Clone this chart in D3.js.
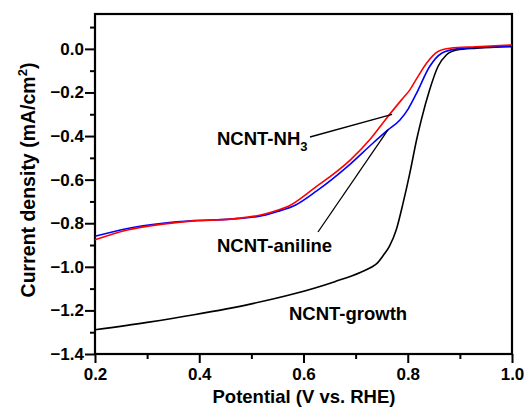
<!DOCTYPE html>
<html><head><meta charset="utf-8">
<script src="https://cdn.jsdelivr.net/npm/d3@7"></script>
<style>body{margin:0;background:#fff}svg text{font-family:Arial,"Liberation Sans",sans-serif;font-weight:bold}</style>
</head><body><svg id="c" width="525" height="414"></svg>
<script>
const xMajorTicks = [0.2, 0.4, 0.6, 0.8, 1.0];
const xMinorTicks = [0.3, 0.5, 0.7, 0.9];
const yMajorTicks = [-1.4, -1.2, -1.0, -0.8, -0.6, -0.4, -0.2, 0.0];
const yMinorTicks = [-1.3, -1.1, -0.9, -0.7, -0.5, -0.3, -0.1, 0.1];

const growthV = [0.20,0.30,0.39,0.50,0.58,0.66,0.71,0.73,0.742,0.753,0.765,0.778,0.791,0.804,0.817,0.826,0.842,0.858,0.874,0.894,0.932,1.0];
const growthJ = [-1.289,-1.255,-1.220,-1.170,-1.125,-1.068,-1.025,-1.002,-0.982,-0.948,-0.905,-0.830,-0.708,-0.570,-0.417,-0.326,-0.188,-0.081,-0.028,-0.005,0.003,0.010];

const nh3V = [0.20,0.26,0.33,0.39,0.46,0.52,0.55,0.57,0.62,0.69,0.727,0.762,0.788,0.804,0.82,0.836,0.858,0.881,0.93,1.0];
const nh3J = [-0.876,-0.832,-0.804,-0.789,-0.781,-0.761,-0.740,-0.723,-0.640,-0.509,-0.417,-0.310,-0.234,-0.188,-0.125,-0.066,-0.012,0.003,0.010,0.018];

const anilineV = [0.20,0.26,0.33,0.39,0.46,0.52,0.55,0.585,0.624,0.688,0.733,0.762,0.785,0.801,0.817,0.842,0.865,0.894,0.95,1.0];
const anilineJ = [-0.860,-0.825,-0.800,-0.788,-0.781,-0.766,-0.746,-0.716,-0.654,-0.532,-0.433,-0.372,-0.326,-0.275,-0.203,-0.081,-0.020,0.000,0.008,0.014];

const svg = d3.select("#c");
const L = 95, R = 512, T = 14, B = 354;
const x = d3.scaleLinear().domain([0.2, 1.0]).range([L, R]);
const y = d3.scaleLinear().domain([-1.4, 0.16]).range([B, T]);

const fmt = d3.format(".1f");
svg.append("g").attr("transform", `translate(0,${B})`)
  .call(d3.axisBottom(x).tickValues(xMajorTicks).tickFormat(fmt).tickSize(9).tickPadding(5));
svg.append("g").attr("transform", `translate(0,${B})`)
  .call(d3.axisBottom(x).tickValues(xMinorTicks).tickFormat("").tickSize(5));
svg.append("g").attr("transform", `translate(${L},0)`)
  .call(d3.axisLeft(y).tickValues(yMajorTicks).tickFormat(fmt).tickSize(10).tickPadding(1));
svg.append("g").attr("transform", `translate(${L},0)`)
  .call(d3.axisLeft(y).tickValues(yMinorTicks).tickFormat("").tickSize(5));
svg.selectAll(".domain").remove();
svg.selectAll(".tick line").attr("stroke", "#000").attr("stroke-width", 2);
svg.selectAll(".tick text").attr("font-size", 17).attr("font-weight", "bold")
  .attr("font-family", "Arial, 'Liberation Sans', sans-serif").attr("fill", "#000");

svg.append("rect").attr("x", L).attr("y", T).attr("width", R - L).attr("height", B - T)
  .attr("fill", "none").attr("stroke", "#000").attr("stroke-width", 2.2);

const line = d3.line().x(d => x(d[0])).y(d => y(d[1])).curve(d3.curveMonotoneX);
const series = [
  {v: growthV, j: growthJ, c: "#000000"},
  {v: anilineV, j: anilineJ, c: "#0000ff"},
  {v: nh3V, j: nh3J, c: "#ff0000"}
];
series.forEach(s => {
  svg.append("path").datum(s.v.map((v, i) => [v, s.j[i]]))
    .attr("d", line).attr("fill", "none").attr("stroke", s.c).attr("stroke-width", 1.6);
});

const ann = svg.append("g").attr("font-size", 18.5).attr("fill", "#000");
const t1 = ann.append("text").attr("x", 217).attr("y", 145);
t1.append("tspan").text("NCNT-NH");
t1.append("tspan").attr("font-size", 13).attr("dy", 6).text("3");
ann.append("text").attr("x", 217).attr("y", 251.5).text("NCNT-aniline");
ann.append("text").attr("x", 289).attr("y", 320).text("NCNT-growth");

svg.append("line").attr("x1", 310).attr("y1", 137).attr("x2", x(0.77)).attr("y2", y(-0.30))
  .attr("stroke", "#000").attr("stroke-width", 1.3);
svg.append("line").attr("x1", 318).attr("y1", 232).attr("x2", x(0.762)).attr("y2", y(-0.372))
  .attr("stroke", "#000").attr("stroke-width", 1.3);

svg.append("text").attr("x", 304).attr("y", 403).attr("text-anchor", "middle")
  .attr("font-size", 18.5).text("Potential (V vs. RHE)");
const yt = svg.append("text").attr("transform", "translate(35,180) rotate(-90)")
  .attr("text-anchor", "middle").attr("font-size", 19.5);
yt.append("tspan").text("Current density (mA/cm");
yt.append("tspan").attr("font-size", 13).attr("dy", -8).text("2");
yt.append("tspan").attr("dy", 8).text(")");
</script></body></html>
